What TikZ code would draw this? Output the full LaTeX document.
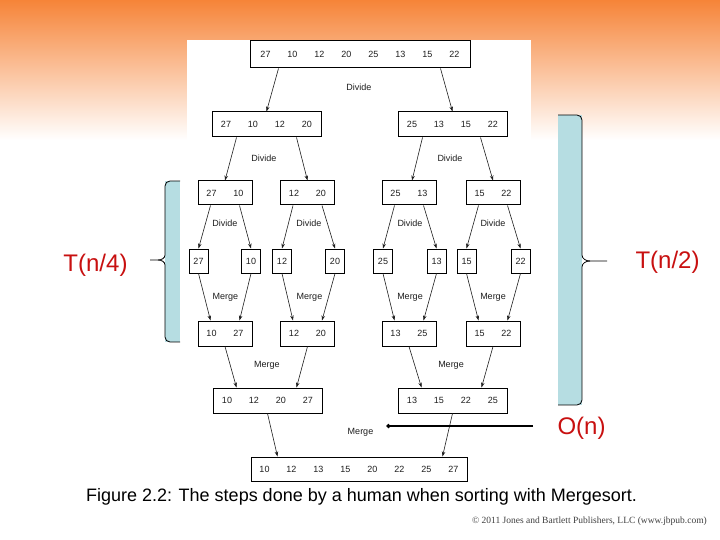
\documentclass[tikz,border=0pt]{standalone}
\usepackage{fontspec}
\setmainfont{Liberation Sans}
\newfontfamily\serifcr{Liberation Serif}
\usetikzlibrary{arrows.meta}
\definecolor{bgorange}{RGB}{246,132,56}
\definecolor{bracketblue}{RGB}{182,221,226}
\definecolor{labelred}{RGB}{200,16,16}
\definecolor{figink}{RGB}{30,30,30}
\newcommand{\nb}[1]{\makebox[27pt]{#1}}
\begin{document}
\begin{tikzpicture}[x=1pt,y=-1pt,
  numbox/.style={draw=black,line width=1pt,inner sep=0pt,minimum height=25pt,
    font=\fontsize{9}{10}\selectfont,text=figink},
  single/.style={numbox,minimum width=19pt,minimum height=24pt},
  steplabel/.style={font=\fontsize{9}{10}\selectfont,text=figink,inner sep=1pt},
  arr/.style={draw=figink,line width=0.6pt,-{Stealth[length=5pt,width=3.5pt]}},
  bigred/.style={font=\fontsize{24}{28}\selectfont,text=labelred,inner sep=0pt},
  brace/.style={draw=black,line width=0.8pt}]
\useasboundingbox (0,0) rectangle (720,540);
% background
\fill[white] (0,0) rectangle (720,540);
\shade[top color=bgorange, bottom color=white] (0,0) rectangle (720,140);
\fill[white] (187,40) rectangle (531,140);

% brackets
\fill[bracketblue] (558,115) rectangle (582,405);
\draw[brace] (558,115) -- (577,115) to[out=0,in=90] (582,120) -- (582,255)
  to[out=-90,in=180] (590,261) -- (607,261);
\draw[brace] (590,261) to[out=180,in=90] (582,267) -- (582,400)
  to[out=-90,in=0] (577,405) -- (558,405);
\fill[bracketblue] (165,181) rectangle (180,342);
\draw[brace] (180,181) -- (170,181) to[out=180,in=90] (165,186) -- (165,255)
  to[out=-90,in=0] (158,260) -- (150,260);
\draw[brace] (158,260) to[out=0,in=90] (165,265) -- (165,337)
  to[out=-90,in=180] (170,342) -- (180,342);

% boxes
\node[numbox,minimum width=220pt,minimum height=27pt] (top) at (360,54.5)
  {\nb{27}\nb{10}\nb{12}\nb{20}\nb{25}\nb{13}\nb{15}\nb{22}};
\node[numbox,minimum width=109pt] (l2a) at (266.5,124.5) {\nb{27}\nb{10}\nb{12}\nb{20}};
\node[numbox,minimum width=109pt] (l2b) at (452.5,124.5) {\nb{25}\nb{13}\nb{15}\nb{22}};

\node[numbox,minimum width=54pt,minimum height=24pt] (l3a) at (225,193) {\nb{27}\nb{10}};
\node[numbox,minimum width=54pt,minimum height=24pt] (l3b) at (307.5,193) {\nb{12}\nb{20}};
\node[numbox,minimum width=54pt,minimum height=24pt] (l3c) at (409,193) {\nb{25}\nb{13}};
\node[numbox,minimum width=54pt,minimum height=24pt] (l3d) at (493,193) {\nb{15}\nb{22}};

\node[single] (s1) at (198.5,261) {27};
\node[single] (s2) at (251,261) {10};
\node[single] (s3) at (282,261) {12};
\node[single] (s4) at (335,261) {20};
\node[single] (s5) at (383,261) {25};
\node[single] (s6) at (436.5,261) {13};
\node[single] (s7) at (466.5,261) {15};
\node[single] (s8) at (520.5,261) {22};

\node[numbox,minimum width=54pt] (l5a) at (225,333.5) {\nb{10}\nb{27}};
\node[numbox,minimum width=54pt] (l5b) at (307.5,333.5) {\nb{12}\nb{20}};
\node[numbox,minimum width=54pt] (l5c) at (409,333.5) {\nb{13}\nb{25}};
\node[numbox,minimum width=54pt] (l5d) at (493,333.5) {\nb{15}\nb{22}};

\node[numbox,minimum width=109pt] (l6a) at (267.5,400.5) {\nb{10}\nb{12}\nb{20}\nb{27}};
\node[numbox,minimum width=109pt] (l6b) at (452.5,400.5) {\nb{13}\nb{15}\nb{22}\nb{25}};

\node[numbox,minimum width=216pt,minimum height=24pt] (fin) at (359,469)
  {\nb{10}\nb{12}\nb{13}\nb{15}\nb{20}\nb{22}\nb{25}\nb{27}};

% step labels
\node[steplabel] (d1) at (359,87) {Divide};
\node[steplabel] (d2a) at (264,158) {Divide};
\node[steplabel] (d2b) at (450,158) {Divide};
\node[steplabel] (d3a) at (225,223) {Divide};
\node[steplabel] (d3b) at (309,223) {Divide};
\node[steplabel] (d3c) at (410,223) {Divide};
\node[steplabel] (d3d) at (493,223) {Divide};
\node[steplabel] (m4a) at (225.5,297) {Merge};
\node[steplabel] (m4b) at (309.5,297) {Merge};
\node[steplabel] (m4c) at (410,297) {Merge};
\node[steplabel] (m4d) at (493,297) {Merge};
\node[steplabel] (m5a) at (267,365) {Merge};
\node[steplabel] (m5b) at (451,365) {Merge};
\node[steplabel] (mF) at (360.5,432) {Merge};

% arrows
\draw[arr] ([xshift=29pt]top.south west) -- (l2a.north);
\draw[arr] ([xshift=-30pt]top.south east) -- (l2b.north);

\draw[arr] ([xshift=25pt]l2a.south west) -- (l3a.north);
\draw[arr] ([xshift=-25pt]l2a.south east) -- (l3b.north);
\draw[arr] ([xshift=25pt]l2b.south west) -- ([xshift=3pt]l3c.north);
\draw[arr] ([xshift=-27pt]l2b.south east) -- (l3d.north);

\draw[arr] ([xshift=13pt]l3a.south west) -- (s1.north);
\draw[arr] ([xshift=-13pt]l3a.south east) -- (s2.north);
\draw[arr] ([xshift=13pt]l3b.south west) -- (s3.north);
\draw[arr] ([xshift=-13pt]l3b.south east) -- (s4.north);
\draw[arr] ([xshift=13pt]l3c.south west) -- (s5.north);
\draw[arr] ([xshift=-13pt]l3c.south east) -- (s6.north);
\draw[arr] ([xshift=13pt]l3d.south west) -- (s7.north);
\draw[arr] ([xshift=-13pt]l3d.south east) -- (s8.north);

\draw[arr] (s1.south) -- ([xshift=13pt]l5a.north west);
\draw[arr] (s2.south) -- ([xshift=-13pt]l5a.north east);
\draw[arr] (s3.south) -- ([xshift=13pt]l5b.north west);
\draw[arr] (s4.south) -- ([xshift=-13pt]l5b.north east);
\draw[arr] (s5.south) -- ([xshift=13pt]l5c.north west);
\draw[arr] (s6.south) -- ([xshift=-13pt]l5c.north east);
\draw[arr] (s7.south) -- ([xshift=13pt]l5d.north west);
\draw[arr] (s8.south) -- ([xshift=-13pt]l5d.north east);

\draw[arr] (l5a.south) -- ([xshift=24pt]l6a.north west);
\draw[arr] (l5b.south) -- ([xshift=-26pt]l6a.north east);
\draw[arr] (l5c.south) -- ([xshift=24pt]l6b.north west);
\draw[arr] (l5d.south) -- ([xshift=-26pt]l6b.north east);

\draw[arr] (l6a.south) -- ([xshift=27pt]fin.north west);
\draw[arr] (l6b.south) -- ([xshift=-25pt]fin.north east);

% red labels
\node[bigred] (tn4) at (95.5,265) {T(n/4)};
\node[bigred] (tn2) at (667.5,262) {T(n/2)};
\node[bigred] (on) at (581.5,428) {O(n)};
\coordinate (onl) at (533,426);
\draw[line width=1.4pt,-{Circle[length=4pt]}] (onl) -- ([xshift=12pt]mF.east |- onl);

% caption
\node[font=\fontsize{18}{21}\selectfont,inner sep=0pt] (cap) at (361.5,497)
  {Figure 2.2: The steps done by a human when sorting with Mergesort.};
\node[font=\serifcr\fontsize{9.5}{11}\selectfont,text=black!75,anchor=east,inner sep=0pt] (copy) at (707,521)
  {© 2011 Jones and Bartlett Publishers, LLC (www.jbpub.com)};
\end{tikzpicture}
\end{document}
